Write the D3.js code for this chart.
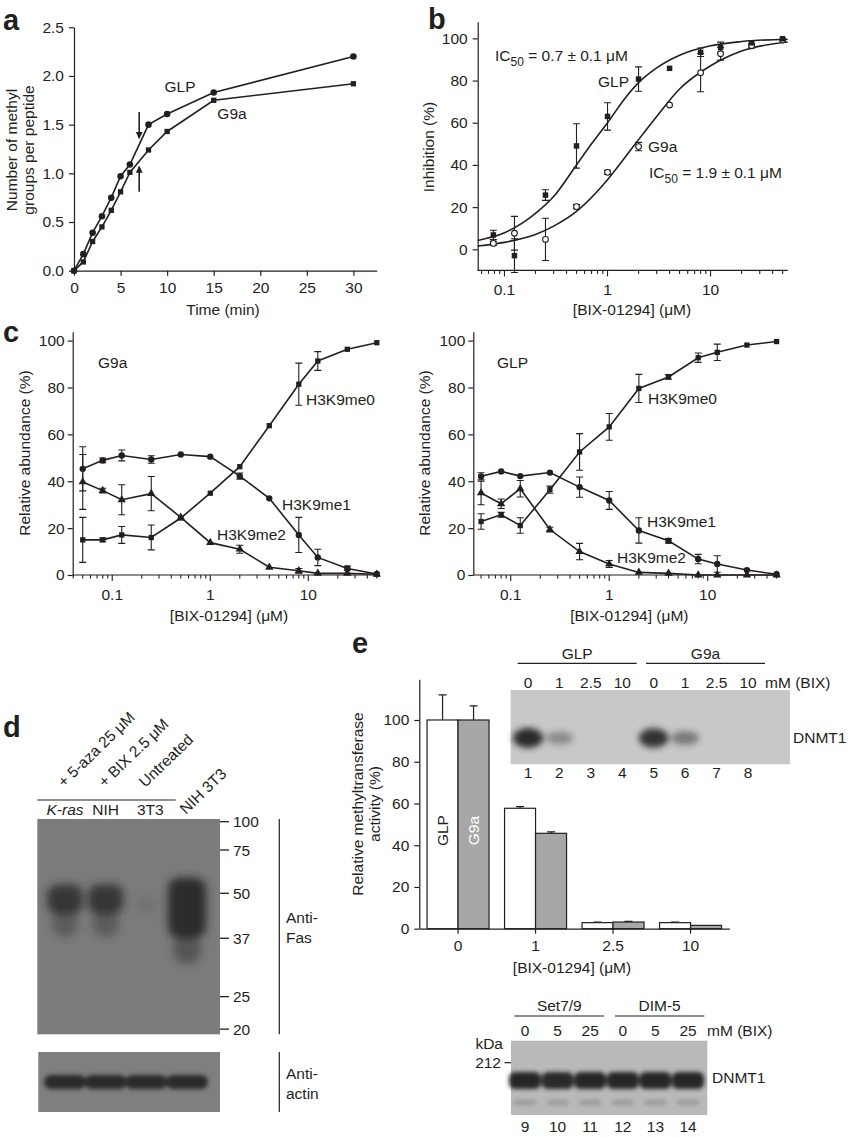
<!DOCTYPE html>
<html>
<head>
<meta charset="utf-8">
<script src="https://cdn.jsdelivr.net/npm/d3@7"></script>
<style>
  body { margin: 0; background: #fff; }
  svg text { font-family: "Liberation Sans", Arial, Helvetica, sans-serif; font-size: 15.5px; fill: #231f20; }
  .letter { font-weight: bold; font-size: 29px; }
</style>
</head>
<body>
<svg id="fig" width="850" height="1137"></svg>
<script>
// ---- a: methylation time course
const timeMin = [0, 1, 2, 3, 4, 5, 6, 8, 10, 15, 30];
const glpMethyl = [0, 0.17, 0.39, 0.56, 0.75, 0.97, 1.09, 1.50, 1.61, 1.83, 2.20];
const g9aMethyl = [0, 0.09, 0.30, 0.45, 0.62, 0.81, 1.01, 1.24, 1.43, 1.75, 1.92];
const arrowsA = [{ t: 7, from: 1.63, to: 1.36 }, { t: 7, from: 0.81, to: 1.07 }];

// ---- b: inhibition by BIX-01294
const bixConc = [0.078, 0.125, 0.25, 0.5, 1, 2, 4, 8, 12.5, 25, 50];
const glpInhib = [6.8, -3, 25.7, 49, 63, 80.7, 85.8, 93.4, 95.7, 97.9, 99.8];
const glpInhibErr = [2.2, 8, 2.5, 10.5, 6.5, 5.8, 0, 2, 2.5, 1, 0];
const g9aInhib = [2.8, 7.6, 4.7, 20.2, 36.5, 48.7, 68.4, 83.7, 92.7, 96.5, 99.2];
const g9aInhibErr = [1, 8, 10, 1, 1, 2, 0, 9, 3, 1, 0];
// fitted curves
const glpFitX = [0.055, 0.1, 0.2, 0.3, 0.5, 0.7, 1, 1.5, 2, 3, 5, 10, 20, 56];
const glpFitY = [4.2, 7.8, 17, 25, 40, 50, 60, 72, 79, 86, 92, 96.5, 98.5, 99.6];
const g9aFitX = [0.055, 0.1, 0.2, 0.3, 0.5, 1, 1.5, 2, 3, 5, 10, 20, 56];
const g9aFitY = [1.6, 3.3, 7, 11, 18, 33, 44, 52, 63, 76, 87, 94, 98.3];

// ---- c: H3K9 methylation states
const cConc = [0.05, 0.08, 0.125, 0.25, 0.5, 1, 2, 4, 8, 12.5, 25, 50];
const g9aMe0 = [15, 15, 17.1, 16, 24.3, 34.9, 46.2, 63.7, 81.4, 91.3, 96.3, 99.1];
const g9aMe0Err = [9.6, 0.8, 3.6, 5.3, 0, 0, 0, 0, 9, 4, 0, 0];
const g9aMe1 = [45.3, 48.9, 51, 49.3, 51.4, 50.5, 42.2, 32.7, 17.1, 7.5, 2.8, 0.4];
const g9aMe1Err = [9.4, 1, 2.3, 1.6, 0, 0, 1.3, 0, 7.5, 3.5, 1, 0];
const g9aMe2 = [39.7, 36, 32.1, 34.7, 24.6, 13.8, 11, 3.3, 1.8, 0.7, 0.7, 0.3];
const g9aMe2Err = [11.7, 1, 6.4, 7.3, 0, 0, 1.7, 0, 1, 0, 0, 0];
const glpMe0 = [22.8, 25.7, 21.1, 36.4, 52.5, 63.2, 79.6, 84.5, 92.7, 95, 98.1, 99.6];
const glpMe0Err = [3.3, 1, 3.3, 1.5, 7.8, 5.7, 6, 1, 2, 3.5, 0, 0];
const glpMe1 = [42.1, 44.2, 42.2, 43.7, 37.5, 31.8, 19, 14.6, 6.8, 4.7, 2.1, 0.3];
const glpMe1Err = [1.5, 0, 0, 0, 4.3, 3.8, 5.4, 1, 2, 3.5, 0, 0];
const glpMe2 = [35, 30.4, 36.8, 19.4, 10, 4.7, 1.1, 0.7, 0, 0, 0, 0];
const glpMe2Err = [5, 2, 3.5, 1, 3.5, 1.5, 0, 0, 0, 0, 0, 0];

// ---- d: Fas western blot
const lanesD = ["K-ras", "NIH", "3T3", "NIH 3T3"];
const treatments = ["+ 5-aza 25 μM", "+ BIX 2.5 μM", "Untreated", "NIH 3T3"];
const markerKDa = [100, 75, 50, 37, 25, 20];
const markerMobility = [0.0125, 0.144, 0.345, 0.554, 0.825, 0.976];
const fasSignal = [0.85, 0.85, 0.07, 1];
const fasTopKDa = [55, 55, 49, 59];
const fasCoreKDa = [44, 44, 45, 37];
const fasTailKDa = [38.5, 38.5, 45, 32.5];
const actinSignal = [1, 1, 1, 1];

// ---- e: methyltransferase activity + DNMT1 blots
const bixDoses = ["0", "1", "2.5", "10"];
const enzymes = ["GLP", "G9a"];
const glpActivity = [100, 57.7, 2.9, 2.9];
const glpActivityErr = [12, 0.8, 0.3, 0.3];
const g9aActivity = [100, 45.7, 3.2, 1.6];
const g9aActivityErr = [6.8, 0.7, 0.3, 0];
const insetLanes = [1, 2, 3, 4, 5, 6, 7, 8];
const insetDoses = ["0", "1", "2.5", "10", "0", "1", "2.5", "10"];
const insetSignal = [1, 0.4, 0, 0, 0.95, 0.5, 0, 0];
const lowerLanes = [9, 10, 11, 12, 13, 14];
const lowerDoses = ["0", "5", "25", "0", "5", "25"];
const lowerSignal = [1, 0.95, 1, 1, 1, 1];

const ink = "#231f20";
const svg = d3.select("#fig");
svg.append("rect").attr("width", 850).attr("height", 1137).attr("fill", "#fff");

const defs = svg.append("defs");
[2, 3, 4].forEach(s => {
  defs.append("filter").attr("id", "blur" + s)
      .attr("x", "-50%").attr("y", "-80%").attr("width", "200%").attr("height", "260%")
    .append("feGaussianBlur").attr("stdDeviation", s);
});
defs.append("marker").attr("id", "head").attr("viewBox", "0 0 10 10")
    .attr("refX", 9).attr("refY", 5).attr("markerWidth", 7).attr("markerHeight", 7)
    .attr("markerUnits", "userSpaceOnUse").attr("orient", "auto")
  .append("path").attr("d", "M0,0L10,5L0,10z").attr("fill", ink);

const text = (g, x, y, s, anchor = "start") =>
  g.append("text").attr("x", x).attr("y", y).attr("text-anchor", anchor).text(s);

const styleAxis = g => {
  g.attr("font-size", null).attr("font-family", null);
  g.selectAll(".domain, .tick line").attr("stroke", ink).attr("stroke-width", 1.2);
  g.selectAll("text").attr("fill", ink);
};

const logAxis = (g, x, y0) => {
  const [d0, d1] = x.domain();
  g.append("line").attr("x1", x.range()[0]).attr("x2", x.range()[1])
      .attr("y1", y0).attr("y2", y0).attr("stroke", ink).attr("stroke-width", 1.2);
  x.ticks().filter(v => v >= d0 && v <= d1).forEach(v => {
    const major = Math.abs(Math.log10(v) - Math.round(Math.log10(v))) < 1e-9;
    g.append("line").attr("x1", x(v)).attr("x2", x(v)).attr("y1", y0).attr("y2", y0 + (major ? 6 : 3.5))
        .attr("stroke", ink).attr("stroke-width", 1.1);
    if (major) text(g, x(v), y0 + 24.5, d3.format("~g")(v), "middle");
  });
};

const errBars = (g, xs, ys, es, x, y, w = 3.5) => {
  xs.forEach((xv, i) => {
    if (!es[i]) return;
    const cx = x(xv), t = y(ys[i] + es[i]), b = y(ys[i] - es[i]);
    g.append("path")
        .attr("d", `M${cx},${t}V${b}M${cx - w},${t}H${cx + w}M${cx - w},${b}H${cx + w}`)
        .attr("stroke", ink).attr("stroke-width", 1.1).attr("fill", "none");
  });
};

const series = (g, xs, ys, x, y, sym, size, fill = ink, curve = d3.curveLinear) => {
  g.append("path").datum(xs.map((v, i) => [v, ys[i]]))
      .attr("d", d3.line().x(d => x(d[0])).y(d => y(d[1])).curve(curve))
      .attr("fill", "none").attr("stroke", ink).attr("stroke-width", 1.6);
  if (!sym) return;
  g.selectAll(null).data(xs.map((v, i) => [v, ys[i]])).join("path")
      .attr("transform", d => `translate(${x(d[0])},${y(d[1])})`)
      .attr("d", d3.symbol().type(sym).size(size))
      .attr("fill", fill).attr("stroke", ink).attr("stroke-width", fill === ink ? 0 : 1.1);
};

const rotLabel = (g, x, y, lines, gap = 17) => {
  lines.forEach((s, i) => {
    g.append("text").attr("transform", `translate(${x + i * gap},${y}) rotate(-90)`)
        .attr("text-anchor", "middle").text(s);
  });
};

const ic50 = (g, x, y, val) => {
  const t = g.append("text").attr("x", x).attr("y", y);
  t.append("tspan").text("IC");
  t.append("tspan").attr("dy", 5).style("font-size", "12px").text("50");
  t.append("tspan").attr("dy", -5).text(` = ${val} ± 0.1 μM`);
};

// =================== panel a
{
  const g = svg.append("g");
  const x = d3.scaleLinear().domain([0, 32.5]).range([74, 376.7]);
  const y = d3.scaleLinear().domain([0, 2.5]).range([270.7, 27.3]);
  g.append("g").attr("transform", `translate(0,${y(0)})`)
      .call(d3.axisBottom(x).tickValues(d3.range(0, 31, 5)).tickSize(5).tickSizeOuter(0).tickPadding(6.5))
      .call(styleAxis);
  g.append("g").attr("transform", `translate(${x(0)},0)`)
      .call(d3.axisLeft(y).tickValues(d3.range(0, 2.51, 0.5)).tickFormat(d3.format(".1f"))
        .tickSize(5).tickSizeOuter(0).tickPadding(5))
      .call(styleAxis);
  series(g, timeMin, glpMethyl, x, y, d3.symbolCircle, 34);
  series(g, timeMin, g9aMethyl, x, y, d3.symbolSquare, 28);
  arrowsA.forEach(a => g.append("line")
      .attr("x1", x(a.t)).attr("x2", x(a.t)).attr("y1", y(a.from)).attr("y2", y(a.to))
      .attr("stroke", ink).attr("stroke-width", 1.6).attr("marker-end", "url(#head)"));
  text(g, 180, 92, "GLP", "middle");
  text(g, 232, 119, "G9a", "middle");
  text(g, 223, 315, "Time (min)", "middle");
  rotLabel(g, 17, 150, ["Number of methyl", "groups per peptide"]);
  text(g, 3, 30, "a").attr("class", "letter");
}

// =================== panel b
{
  const g = svg.append("g");
  const x = d3.scaleLog().domain([0.055, 56]).range([477.7, 787.7]);
  const y = d3.scaleLinear().domain([-10, 107.9]).range([270.4, 21.7]);
  logAxis(g, x, y(-10));
  g.append("g").attr("transform", `translate(${x.range()[0]},0)`)
      .call(d3.axisLeft(y).tickValues(d3.range(0, 101, 20)).tickSize(5).tickSizeOuter(0).tickPadding(5))
      .call(styleAxis);
  series(g, glpFitX, glpFitY, x, y, null, 0, ink, d3.curveMonotoneX);
  series(g, g9aFitX, g9aFitY, x, y, null, 0, ink, d3.curveMonotoneX);
  errBars(g, bixConc, glpInhib, glpInhibErr, x, y);
  errBars(g, bixConc, g9aInhib, g9aInhibErr, x, y);
  const pts = (ys, sym, size, fill) => g.selectAll(null).data(bixConc).join("path")
      .attr("transform", (d, i) => `translate(${x(d)},${y(ys[i])})`)
      .attr("d", d3.symbol().type(sym).size(size))
      .attr("fill", fill).attr("stroke", ink).attr("stroke-width", fill === ink ? 0 : 1.1);
  pts(g9aInhib, d3.symbolCircle, 26, "#fff");
  pts(glpInhib, d3.symbolSquare, 30, ink);
  ic50(g, 495, 61, "0.7");
  text(g, 598, 87, "GLP");
  text(g, 648, 152, "G9a");
  ic50(g, 649, 178, "1.9");
  text(g, 632, 315, "[BIX-01294] (μM)", "middle");
  rotLabel(g, 434, 147, ["Inhibition (%)"]);
  text(g, 428, 29, "b").attr("class", "letter");
}

// =================== panel c
const panelC = (x0, x1, dom, name, me0, me0e, me1, me1e, me2, me2e, labels) => {
  const g = svg.append("g");
  const x = d3.scaleLog().domain(dom).range([x0, x1]);
  const y = d3.scaleLinear().domain([0, 103.8]).range([575, 331.7]);
  logAxis(g, x, y(0));
  g.append("g").attr("transform", `translate(${x0},0)`)
      .call(d3.axisLeft(y).tickValues(d3.range(0, 101, 20)).tickSize(5).tickSizeOuter(0).tickPadding(3))
      .call(styleAxis);
  errBars(g, cConc, me0, me0e, x, y);
  errBars(g, cConc, me1, me1e, x, y);
  errBars(g, cConc, me2, me2e, x, y);
  series(g, cConc, me2, x, y, d3.symbolTriangle, 30);
  series(g, cConc, me1, x, y, d3.symbolCircle, 32);
  series(g, cConc, me0, x, y, d3.symbolSquare, 28);
  text(g, labels.name[0], labels.name[1], name);
  text(g, labels.me0[0], labels.me0[1], "H3K9me0");
  text(g, labels.me1[0], labels.me1[1], "H3K9me1");
  text(g, labels.me2[0], labels.me2[1], "H3K9me2");
  text(g, (x0 + x1) / 2 + 3, 621, "[BIX-01294] (μM)", "middle");
  rotLabel(g, x0 - 43, 453, ["Relative abundance (%)"]);
  return g;
};
panelC(72.7, 379.3, [0.0395, 53], "G9a", g9aMe0, g9aMe0Err, g9aMe1, g9aMe1Err, g9aMe2, g9aMe2Err,
  { name: [98, 368], me0: [306, 405], me1: [282, 510], me2: [217, 540] })
  .call(g => text(g, 3, 342, "c").attr("class", "letter"));
panelC(473.3, 779.3, [0.0417, 53.3], "GLP", glpMe0, glpMe0Err, glpMe1, glpMe1Err, glpMe2, glpMe2Err,
  { name: [497, 368], me0: [648, 404], me1: [647, 527], me2: [617, 563] });

// =================== panel d
{
  const g = svg.append("g");
  const blot = { x: 37.3, w: 182.7, y: 819, h: 215.3 };
  const x = d3.scalePoint().domain(lanesD).range([65, 187]);
  const y = d3.scaleLinear().domain(markerKDa).range(markerMobility.map(m => blot.y + m * blot.h));
  g.append("rect").attr("x", blot.x).attr("y", blot.y).attr("width", blot.w).attr("height", blot.h).attr("fill", "#7b7b7b");
  const bands = g.append("g").attr("filter", "url(#blur4)");
  lanesD.forEach((l, i) => {
    const s = fasSignal[i], rx = 11 + 8 * s;
    const top = y(fasTopKDa[i]), core = y(fasCoreKDa[i]), tail = y(fasTailKDa[i]);
    bands.append("ellipse").attr("cx", x(l)).attr("cy", (core + tail) / 2)
        .attr("rx", rx * 0.75).attr("ry", Math.max(2, (tail - core) / 2 + 4))
        .attr("fill", "#3a3a3a").attr("opacity", s * 0.6);
    bands.append("rect").attr("x", x(l) - rx).attr("y", top).attr("width", 2 * rx)
        .attr("height", Math.max(4, core - top)).attr("rx", rx * 0.6)
        .attr("fill", "#262626").attr("opacity", s * 0.95);
  });
  const mk = g.append("g");
  markerKDa.forEach(k => {
    mk.append("line").attr("x1", blot.x + blot.w).attr("x2", blot.x + blot.w + 9)
        .attr("y1", y(k)).attr("y2", y(k)).attr("stroke", ink).attr("stroke-width", 1.3);
    text(mk, blot.x + blot.w + 13, y(k) + 5.5, k);
  });
  const actin = { x: 38.3, w: 181.7, y: 1052, h: 60 };
  g.append("rect").attr("x", actin.x).attr("y", actin.y).attr("width", actin.w).attr("height", actin.h).attr("fill", "#7f7f7f");
  const ab = g.append("g").attr("filter", "url(#blur2)");
  lanesD.forEach((l, i) => ab.append("rect").attr("x", x(l) - 21).attr("y", actin.y + actin.h / 2 - 7)
      .attr("width", 42).attr("height", 14).attr("rx", 7).attr("fill", "#2a2a2a").attr("opacity", actinSignal[i]));
  g.append("line").attr("x1", 279.3).attr("x2", 279.3).attr("y1", blot.y).attr("y2", blot.y + blot.h).attr("stroke", ink).attr("stroke-width", 1.2);
  g.append("line").attr("x1", 279.3).attr("x2", 279.3).attr("y1", actin.y).attr("y2", actin.y + actin.h).attr("stroke", ink).attr("stroke-width", 1.2);
  text(g, 286, 923, "Anti-"); text(g, 286, 943, "Fas");
  text(g, 286, 1079, "Anti-"); text(g, 286, 1099, "actin");
  // lane captions
  lanesD.slice(0, 3).forEach((l, i) => {
    const t = text(g, x(l) + (i === 2 ? 4 : 0), 815, l, "middle");
    if (i === 0) t.style("font-style", "italic");
  });
  g.append("line").attr("x1", 37.3).attr("x2", 175.7).attr("y1", 800).attr("y2", 800).attr("stroke", ink).attr("stroke-width", 1.2);
  treatments.forEach((s, i) => {
    const px = i < 3 ? x(lanesD[i]) : x(lanesD[3]);
    const py = i < 3 ? 788 : 815;
    g.append("text").attr("transform", `translate(${px - 1},${py}) rotate(-44)`).text(s);
  });
  text(g, 3, 737, "d").attr("class", "letter");
}

// =================== panel e
{
  const g = svg.append("g");
  const x = d3.scaleBand().domain(bixDoses).range([419.3, 729.3]).paddingInner(0.2).paddingOuter(0.1);
  const xs = d3.scaleBand().domain(enzymes).range([0, x.bandwidth()]);
  const y = d3.scaleLinear().domain([0, 119.5]).range([928.7, 679.3]);
  const vals = { GLP: [glpActivity, glpActivityErr, "#fff"], G9a: [g9aActivity, g9aActivityErr, "#a7a7a7"] };
  enzymes.forEach(en => {
    const [v, e, fill] = vals[en];
    bixDoses.forEach((d, i) => {
      const bx = x(d) + xs(en), cx = bx + xs.bandwidth() / 2;
      if (e[i]) g.append("path")
          .attr("d", `M${cx},${y(v[i])}V${y(v[i] + e[i])}M${cx - 4},${y(v[i] + e[i])}H${cx + 4}`)
          .attr("stroke", ink).attr("stroke-width", 1.2);
      g.append("rect").attr("x", bx).attr("y", y(v[i])).attr("width", xs.bandwidth())
          .attr("height", y(0) - y(v[i])).attr("fill", fill).attr("stroke", ink).attr("stroke-width", 1.2);
    });
  });
  g.append("g").attr("transform", `translate(0,${y(0)})`)
      .call(d3.axisBottom(x).tickSize(5).tickSizeOuter(0).tickPadding(6.5))
      .call(styleAxis);
  g.append("g").attr("transform", `translate(419.3,0)`)
      .call(d3.axisLeft(y).tickValues(d3.range(0, 101, 20)).tickSize(5).tickSizeOuter(0).tickPadding(5))
      .call(styleAxis);
  enzymes.forEach(en => {
    g.append("text").attr("transform", `translate(${x("0") + xs(en) + xs.bandwidth() / 2 + 5.5},${y(47)}) rotate(-90)`)
        .attr("text-anchor", "middle").style("fill", en === "GLP" ? ink : "#fff").text(en);
  });
  text(g, 572, 973, "[BIX-01294] (μM)", "middle");
  rotLabel(g, 363, 804, ["Relative methyltransferase", "activity (%)"]);
  text(g, 352, 653, "e").attr("class", "letter");

  // inset blot
  const xi = d3.scalePoint().domain(insetLanes).range([528, 748]);
  g.append("rect").attr("x", 510.7).attr("y", 690).attr("width", 279.3).attr("height", 74.3).attr("fill", "#c8c8c8");
  const ib = g.append("g").attr("filter", "url(#blur3)");
  insetLanes.forEach((l, i) => {
    if (!insetSignal[i]) return;
    ib.append("ellipse").attr("cx", xi(l)).attr("cy", 738).attr("rx", 13 + 2 * insetSignal[i])
        .attr("ry", 4 + 6 * insetSignal[i]).attr("fill", "#2c2c2c").attr("opacity", insetSignal[i]);
  });
  insetLanes.forEach((l, i) => {
    text(g, xi(l), 688, insetDoses[i], "middle");
    text(g, xi(l), 778, l, "middle");
  });
  text(g, 765, 688, "mM (BIX)");
  text(g, 793, 743, "DNMT1");
  [["GLP", 517.7, 636.7], ["G9a", 646, 765]].forEach(([s, a, b]) => {
    g.append("line").attr("x1", a).attr("x2", b).attr("y1", 663.3).attr("y2", 663.3).attr("stroke", ink).attr("stroke-width", 1.2);
    text(g, (a + b) / 2, 659, s, "middle");
  });

  // lower blot
  const xl = d3.scalePoint().domain(lowerLanes).range([525, 688]);
  g.append("rect").attr("x", 511).attr("y", 1040.7).attr("width", 196.3).attr("height", 74.3).attr("fill", "#b9b9b9");
  const lb = g.append("g").attr("filter", "url(#blur2)");
  lowerLanes.forEach((l, i) => {
    lb.append("rect").attr("x", xl(l) - 16).attr("y", 1072).attr("width", 32).attr("height", 17).attr("rx", 6)
        .attr("fill", "#252525").attr("opacity", lowerSignal[i]);
    lb.append("rect").attr("x", xl(l) - 11).attr("y", 1100).attr("width", 22).attr("height", 5).attr("rx", 2)
        .attr("fill", "#777").attr("opacity", 0.5 * lowerSignal[i]);
  });
  lowerLanes.forEach((l, i) => {
    text(g, xl(l), 1036, lowerDoses[i], "middle");
    text(g, xl(l), 1132, l, "middle");
  });
  text(g, 707, 1036, "mM (BIX)");
  text(g, 712, 1083, "DNMT1");
  text(g, 503, 1049, "kDa", "end");
  text(g, 501, 1068, "212", "end");
  g.append("line").attr("x1", 504.5).attr("x2", 511).attr("y1", 1062.7).attr("y2", 1062.7).attr("stroke", ink).attr("stroke-width", 1.2);
  [["Set7/9", 514.3, 604.3], ["DIM-5", 615, 704.3]].forEach(([s, a, b]) => {
    g.append("line").attr("x1", a).attr("x2", b).attr("y1", 1016).attr("y2", 1016).attr("stroke", ink).attr("stroke-width", 1.2);
    text(g, (a + b) / 2, 1011, s, "middle");
  });
}
</script>
</body>
</html>
